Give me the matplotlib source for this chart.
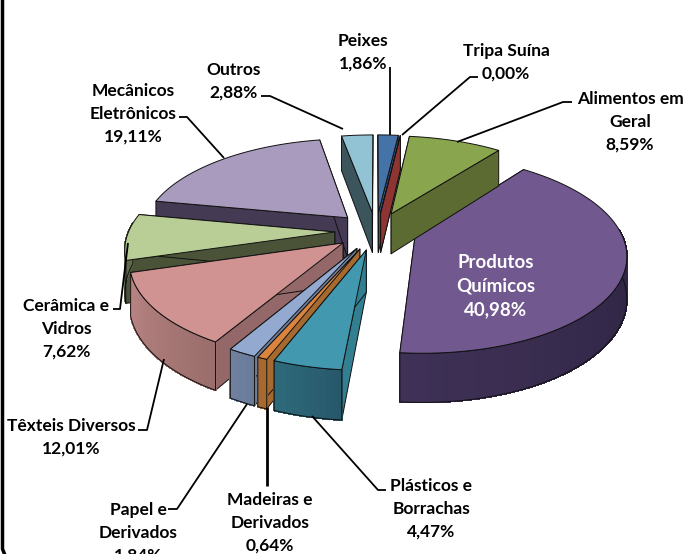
import numpy as np
import matplotlib
matplotlib.use("Agg")
import matplotlib.pyplot as plt
from matplotlib.colors import to_rgb
from matplotlib.patches import Polygon

# valores em % no sentido horario a partir do topo
names = ["Peixes", "Tripa Suína", "Alimentos em\nGeral", "Produtos\nQuímicos", "Plásticos e\nBorrachas",
         "Madeiras e\nDerivados", "Papel e\nDerivados", "Têxteis Diversos", "Cerâmica e\nVidros",
         "Mecânicos\nEletrônicos", "Outros"]
values = [1.86, 0.00, 8.59, 40.98, 4.47, 0.64, 1.84, 12.01, 7.62, 19.11, 2.88]

top_colors = ["#4572A7", "#AA4643", "#89A54E", "#71588F", "#4198AF", "#DB843D", "#93A9CF", "#D19392",
              "#B9CD96", "#A99BBD", "#92C3D4"]
cut_colors = ["#2F5A88", "#8E3432", "#5B6B31", "#433359", "#337F92", "#A66A30", "#6E7F9E", "#946868",
              "#4A5338", "#443A54", "#3C555D"]
# cor da borda externa no inicio e no fim de cada fatia
rim_start = ["#2F4F78", "#7A2E2C", "#5B6B31", "#2C2340", "#27586A", "#A66A30", "#6A7B9A", "#9A6E6C",
             "#5F6B4A", "#5D5270", "#3C555D"]
rim_end = ["#2F4F78", "#7A2E2C", "#5B6B31", "#3F3157", "#2F6B7C", "#A66A30", "#71829F", "#B98583",
           "#5F6B4A", "#5D5270", "#3C555D"]

label_pos = [(363, 52), (506, 62), (630, 122), (496, 286), (431, 509), (270, 523), (138, 533), (71, 437),
             (66, 329), (133, 114), (234, 81)]

leaders = [[(390, 67), (390, 135)],
           [(478, 77), (470, 77), (402, 135)],
           [(572, 102), (563, 102), (457, 142)],
           [(386, 490), (378, 490), (312, 416)],
           [(267, 486), (267, 407)],
           [(168, 509), (177, 509), (247, 404)],
           [(138, 430), (147, 430), (164, 359)],
           [(113, 309), (120, 309), (128, 243)],
           [(179, 117), (187, 117), (224, 158)],
           [(261, 96), (270, 96), (343, 129)]]

draw_order = [3, 9, 10, 0, 1, 2, 8, 7, 6, 5, 4]

cx, cy = 376, 231
rx, ry = 206, 95
persp = 0.155
explode = 0.2
depth = 41


def project(u, v, z=0.0):
    s = 1 / (1 - persp * v)
    return cx + rx * u * s, cy + ry * v * s + z * s


fig = plt.figure(figsize=(6.83, 5.54), dpi=100)
ax = fig.add_axes([0, 0, 1, 1])
ax.set_xlim(0, 683)
ax.set_ylim(554, 0)
ax.axis("off")

bounds = np.cumsum([0] + values) / 100 * 2 * np.pi
edge = dict(edgecolor="#111111", linewidth=0.7, joinstyle="round")

for i in draw_order:
    a1, a2 = bounds[i], bounds[i + 1]
    mid = (a1 + a2) / 2
    ou, ov = explode * np.sin(mid), -explode * np.cos(mid)
    th = np.linspace(a1, a2, max(2, int((a2 - a1) * 40) + 2))
    us = ou + np.sin(th)
    vs = ov - np.cos(th)
    apex = project(ou, ov)
    apex_b = project(ou, ov, depth)
    top = [project(u, v) for u, v in zip(us, vs)]
    bot = [project(u, v, depth) for u, v in zip(us, vs)]

    # faces de corte
    ax.add_patch(Polygon([apex, top[0], bot[0], apex_b], facecolor=cut_colors[i], **edge))
    ax.add_patch(Polygon([apex, top[-1], bot[-1], apex_b], facecolor=cut_colors[i], **edge))

    # borda externa, so a parte virada para a frente
    front = np.where(np.cos(th) < 0.1)[0]
    if len(front) > 1:
        c1, c2 = np.array(to_rgb(rim_start[i])), np.array(to_rgb(rim_end[i]))
        for k in front[:-1]:
            t = (k - front[0]) / max(1, front[-1] - front[0])
            col = c1 + (c2 - c1) * t
            ax.add_patch(Polygon([top[k], top[k + 1], bot[k + 1], bot[k]], facecolor=col, edgecolor=col,
                                 linewidth=0.8, antialiased=False))
        outline = [top[k] for k in front] + [bot[k] for k in front[::-1]]
        ax.add_patch(Polygon(outline, facecolor="none", **edge))

    # tampa
    ax.add_patch(Polygon([apex] + top, facecolor=top_colors[i], **edge))

for pts in leaders:
    ax.plot(*zip(*pts), color="black", lw=1.3, solid_capstyle="butt")
ax.lines[4].set_linewidth(2)

for i, name in enumerate(names):
    txt = name + "\n" + f"{values[i]:.2f}%".replace(".", ",")
    white = i == 3
    ax.text(label_pos[i][0], label_pos[i][1], txt, family="Lato", fontweight="bold",
            fontsize=13.5 if white else 12.5, color="white" if white else "black",
            ha="center", va="center", linespacing=1.46 if white else 1.52)

# moldura e resto do titulo cortado
ax.plot([2.5, 2.5, 4.5], [0, 549, 554], color="black", lw=2.5)
ax.text(638, -11, "p", family="Lato", fontweight="bold", fontsize=20, color="black", ha="left", va="baseline")

fig.savefig("out.png", dpi=100)
